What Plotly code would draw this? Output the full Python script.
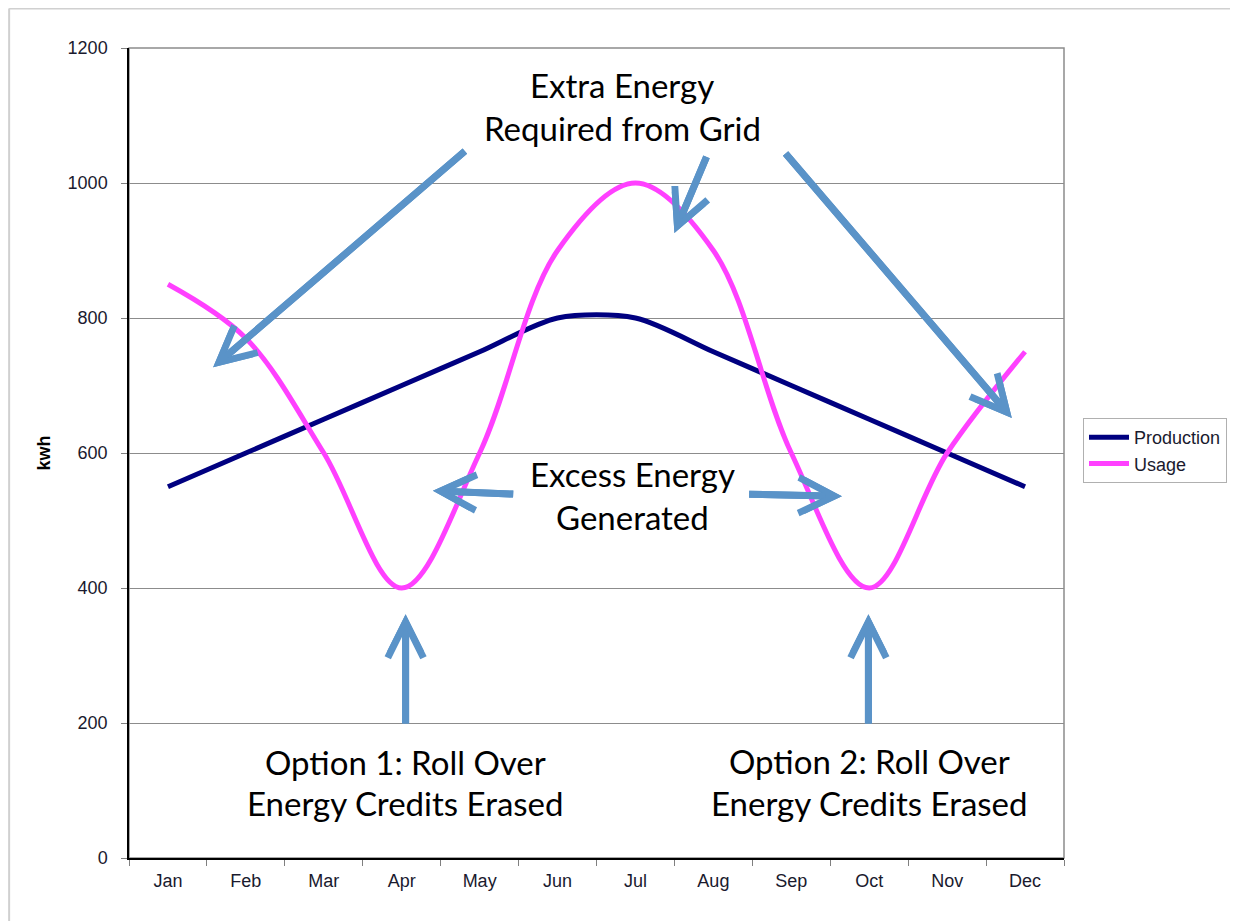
import plotly.graph_objects as go

months = ["Jan", "Feb", "Mar", "Apr", "May", "Jun", "Jul", "Aug", "Sep", "Oct", "Nov", "Dec"]
production = [550, 600, 650, 700, 750, 800, 800, 750, 700, 650, 600, 550]
usage = [850, 770, 600, 400, 600, 900, 1000, 900, 600, 400, 600, 750]
y_ticks = [0, 200, 400, 600, 800, 1000, 1200]

# page body has an 8px margin; lay the figure out so the plot lands at the reference pixels
OFF = 8
W, H = 1238 - OFF, 921 - OFF
L, T = 129 - OFF, 48 - OFF
PR, PB = 1065 - OFF, 858 - OFF  # plot right / bottom in figure px
R, B = W - PR, H - PB
PW, PH = PR - L, PB - T

ARROW = "#5A93C8"
TXT_FONT = "Lato"
TXT_SIZE = 33
AX_FONT = "Liberation Sans, Arial"

fig = go.Figure()
fig.add_trace(go.Scatter(x=months, y=production, name="Production", mode="lines",
                         line=dict(color="#000080", width=5, shape="spline", smoothing=0.8)))
fig.add_trace(go.Scatter(x=months, y=usage, name="Usage", mode="lines",
                         line=dict(color="#FF40FF", width=5, shape="spline", smoothing=1.0)))

# arrows: (head_x, head_y, tail_x, tail_y) in category index / data units
arrows = [
    (0.58, 727, 3.83, 1049),
    (6.50, 926, 6.92, 1041),
    (10.83, 652, 7.91, 1046),
    (3.40, 544, 4.45, 539),
    (8.65, 536, 7.44, 539),
    (3.05, 361, 3.05, 197),
    (8.99, 361, 8.99, 197),
]
annotations = []
for hx, hy, tx, ty in arrows:
    # two overlapping chevron heads give the thick open arrowhead of the original
    for size in (1.0, 0.88):
        annotations.append(dict(x=hx, y=hy, ax=tx, ay=ty, xref="x", yref="y", axref="x", ayref="y",
                                text="", showarrow=True, arrowhead=5, arrowsize=size,
                                arrowwidth=7, arrowcolor=ARROW))

texts = [
    ("Extra Energy", 5.83, 1145),
    ("Required from Grid", 5.83, 1081),
    ("Excess Energy", 5.96, 569),
    ("Generated", 5.96, 505),
    ("Option 1: Roll Over", 3.05, 142),
    ("Energy Credits Erased", 3.05, 81),
    ("Option 2: Roll Over", 9.0, 143),
    ("Energy Credits Erased", 9.0, 81),
]
for t, x, y in texts:
    annotations.append(dict(x=x, y=y, xref="x", yref="y", text=t, showarrow=False,
                            xanchor="center", yanchor="middle",
                            font=dict(family=TXT_FONT, size=TXT_SIZE, color="#000000")))

shapes = [
    # plot area frame (gray)
    dict(type="rect", xref="paper", yref="paper", x0=0, x1=1, y0=0, y1=1,
         line=dict(color="#8c8c8c", width=1.5), layer="below"),
    # outer chart border (light gray)
    dict(type="line", xref="paper", yref="paper", x0=(1 - L) / PW, x1=(W - L) / PW,
         y0=(PB - 0.5) / PH, y1=(PB - 0.5) / PH, line=dict(color="#d0d0d0", width=2)),
    dict(type="line", xref="paper", yref="paper", x0=(1 - L) / PW, x1=(1 - L) / PW,
         y0=(PB - 0.5) / PH, y1=-B / PH, line=dict(color="#d0d0d0", width=2)),
]

fig.update_layout(
    width=W, height=H,
    margin=dict(l=L, r=R, t=T, b=B, pad=0),
    paper_bgcolor="white", plot_bgcolor="white",
    font=dict(family=AX_FONT, size=18, color="#1a1a2e"),
    showlegend=True,
    legend=dict(x=(1083 - OFF - L) / PW, y=(PB - (418 - OFF)) / PH, xanchor="left", yanchor="top",
                bordercolor="#b0b0b0", borderwidth=1, bgcolor="white",
                font=dict(size=18, family=AX_FONT, color="#1a1a2e"),
                itemwidth=40, tracegroupgap=2),
    annotations=annotations,
    shapes=shapes,
    xaxis=dict(type="category", categoryorder="array", categoryarray=months,
               range=[-0.5, 11.5], showgrid=False, showline=True, linecolor="#000000", linewidth=1.5,
               ticks="outside", tickson="boundaries", ticklen=6, tickcolor="#808080",
               tickfont=dict(size=18), zeroline=False, ticklabelstandoff=6),
    yaxis=dict(range=[0, 1200], tickvals=y_ticks, showgrid=True, gridcolor="#8c8c8c", gridwidth=1,
               showline=True, linecolor="#000000", linewidth=1.5, ticks="outside", ticklen=6,
               tickcolor="#808080", tickfont=dict(size=18), zeroline=False, ticklabelstandoff=10,
               title=dict(text="<b>kwh</b>", font=dict(size=18, color="#000000"), standoff=12)),
)

fig.write_html("out.html")
